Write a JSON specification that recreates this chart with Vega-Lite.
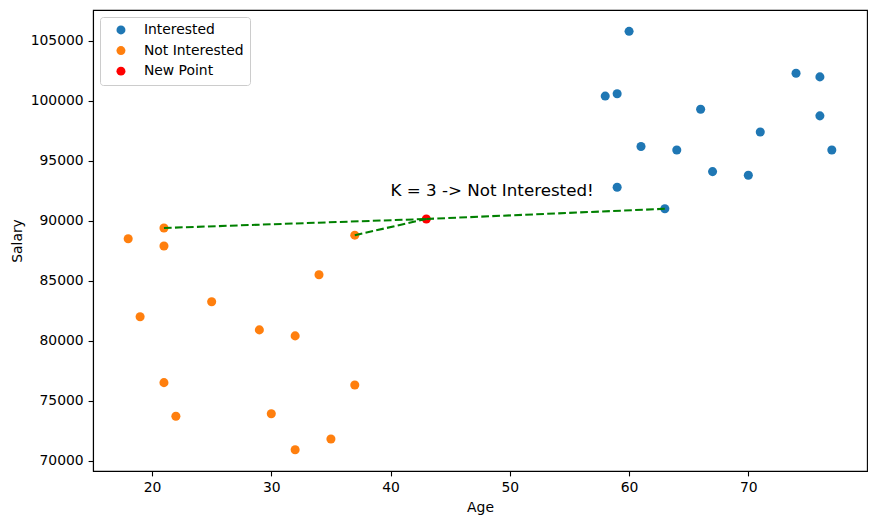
{
  "$schema": "https://vega.github.io/schema/vega-lite/v6.json",
  "width": 774,
  "height": 461,
  "autosize": "none",
  "padding": {"left": 93, "top": 10, "right": 9, "bottom": 54},
  "background": "white",
  "config": {
    "font": "DejaVu Sans",
    "view": {"stroke": "black", "strokeWidth": 1.1},
    "axis": {
      "grid": false,
      "domainColor": "black",
      "domainWidth": 1.1,
      "tickColor": "black",
      "tickWidth": 1.1,
      "tickSize": 4.9,
      "labelColor": "black",
      "labelFont": "DejaVu Sans",
      "labelFontSize": 13.9,
      "labelPadding": 4.9,
      "titleFont": "DejaVu Sans",
      "titleFontSize": 13.9,
      "titleFontWeight": "normal",
      "titleColor": "black"
    },
    "legend": {
      "orient": "top-left",
      "offset": 7,
      "padding": 6,
      "fillColor": "rgba(255,255,255,0.8)",
      "strokeColor": "#cccccc",
      "cornerRadius": 3,
      "labelFont": "DejaVu Sans",
      "labelFontSize": 13.9,
      "labelColor": "black",
      "symbolOffset": 8,
      "labelOffset": 16,
      "rowPadding": 5.6,
      "symbolSize": 80,
      "symbolType": "circle",
      "symbolStrokeWidth": 0
    }
  },
  "datasets": {
    "points": [
      {"age": 60, "salary": 105800, "group": "Interested"},
      {"age": 58, "salary": 100400, "group": "Interested"},
      {"age": 59, "salary": 100600, "group": "Interested"},
      {"age": 74, "salary": 102300, "group": "Interested"},
      {"age": 76, "salary": 102000, "group": "Interested"},
      {"age": 66, "salary": 99300, "group": "Interested"},
      {"age": 76, "salary": 98750, "group": "Interested"},
      {"age": 71, "salary": 97400, "group": "Interested"},
      {"age": 61, "salary": 96200, "group": "Interested"},
      {"age": 64, "salary": 95900, "group": "Interested"},
      {"age": 77, "salary": 95900, "group": "Interested"},
      {"age": 67, "salary": 94100, "group": "Interested"},
      {"age": 70, "salary": 93800, "group": "Interested"},
      {"age": 59, "salary": 92800, "group": "Interested"},
      {"age": 63, "salary": 91000, "group": "Interested"},
      {"age": 18, "salary": 88500, "group": "Not Interested"},
      {"age": 21, "salary": 89400, "group": "Not Interested"},
      {"age": 21, "salary": 87900, "group": "Not Interested"},
      {"age": 37, "salary": 88800, "group": "Not Interested"},
      {"age": 34, "salary": 85500, "group": "Not Interested"},
      {"age": 25, "salary": 83250, "group": "Not Interested"},
      {"age": 19, "salary": 82000, "group": "Not Interested"},
      {"age": 29, "salary": 80900, "group": "Not Interested"},
      {"age": 32, "salary": 80400, "group": "Not Interested"},
      {"age": 21, "salary": 76500, "group": "Not Interested"},
      {"age": 37, "salary": 76300, "group": "Not Interested"},
      {"age": 22, "salary": 73700, "group": "Not Interested"},
      {"age": 30, "salary": 73900, "group": "Not Interested"},
      {"age": 35, "salary": 71800, "group": "Not Interested"},
      {"age": 32, "salary": 70900, "group": "Not Interested"},
      {"age": 43, "salary": 90150, "group": "New Point"}
    ],
    "lines": [
      {"seg": "a", "age": 43, "salary": 90150},
      {"seg": "a", "age": 21, "salary": 89400},
      {"seg": "b", "age": 43, "salary": 90150},
      {"seg": "b", "age": 37, "salary": 88800},
      {"seg": "c", "age": 43, "salary": 90150},
      {"seg": "c", "age": 63, "salary": 91000}
    ],
    "label": [
      {"age": 40, "salary": 92100, "text": "K = 3 -> Not Interested!"}
    ]
  },
  "encoding": {
    "x": {
      "field": "age",
      "type": "quantitative",
      "title": "Age",
      "scale": {"domain": [15.05, 79.95], "nice": false, "zero": false},
      "axis": {"values": [20, 30, 40, 50, 60, 70], "titlePadding": 6}
    },
    "y": {
      "field": "salary",
      "type": "quantitative",
      "title": "Salary",
      "scale": {"domain": [69130, 107580], "nice": false, "zero": false},
      "axis": {"values": [70000, 75000, 80000, 85000, 90000, 95000, 100000, 105000], "format": "d", "titlePadding": 6}
    }
  },
  "layer": [
    {
      "data": {"name": "points"},
      "mark": {"type": "circle", "opacity": 1, "size": 82},
      "encoding": {
        "color": {
          "field": "group",
          "type": "nominal",
          "scale": {"domain": ["Interested", "Not Interested", "New Point"], "range": ["#1f77b4", "#ff7f0e", "red"]},
          "legend": {"title": null}
        }
      }
    },
    {
      "data": {"name": "lines"},
      "mark": {"type": "line", "color": "green", "strokeWidth": 2.08, "strokeDash": [7.7, 3.3]},
      "encoding": {"detail": {"field": "seg", "type": "nominal"}}
    },
    {
      "data": {"name": "label"},
      "mark": {"type": "text", "align": "left", "baseline": "alphabetic", "fontSize": 16.7, "color": "black", "font": "DejaVu Sans"},
      "encoding": {"text": {"field": "text", "type": "nominal"}}
    }
  ]
}
